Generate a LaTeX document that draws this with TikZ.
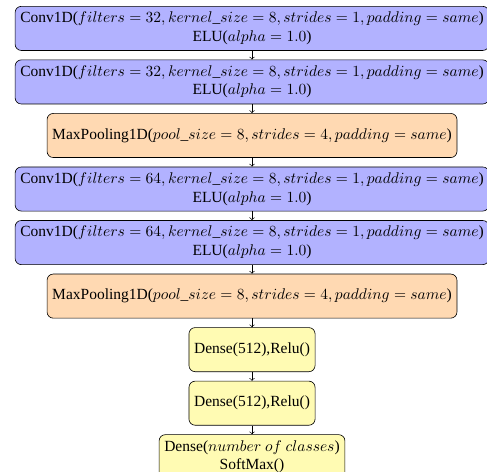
\documentclass[tikz,border=0pt]{standalone}
\usepackage[no-math]{fontspec}
\setmainfont{Liberation Serif}
\usetikzlibrary{positioning}

\begin{document}
\begin{tikzpicture}[
	node distance=0.2cm,
	layer/.style={draw, rounded corners, align=center, minimum height=1cm},
	conv/.style={layer, fill=blue!30},
	pool/.style={layer, fill=orange!30},
	dense/.style={layer, fill=yellow!30}
	]
	\useasboundingbox (-162.6pt,3.9pt) rectangle (151.6pt,-300.6pt);
	\node [conv, anchor=north] (conva) at (0,0) {Conv1D($filters=32, kernel\_size=8, strides=1, padding=same$) \\ ELU($alpha=1.0$)};
	\node [conv, below=of conva] (convb) {Conv1D($filters=32, kernel\_size=8, strides=1, padding=same$) \\ ELU($alpha=1.0$)};
	\node [pool, below=of convb] (poola) {MaxPooling1D($pool\_size=8, strides=4, padding=same$)};
	\node [conv, below=of poola] (convc) {Conv1D($filters=64, kernel\_size=8, strides=1, padding=same$) \\ ELU($alpha=1.0$)};
	\node [conv, below=of convc] (convd) {Conv1D($filters=64, kernel\_size=8, strides=1, padding=same$) \\ ELU($alpha=1.0$)};
	\node [pool, below=of convd] (poolb) {MaxPooling1D($pool\_size=8, strides=4, padding=same$)};
	\node [dense, below=of poolb] (densea) {Dense(512),Relu()};
	\node [dense, below=of densea] (denseb) {Dense(512),Relu()};
	\node [dense, below=of denseb] (densec) {Dense($number\ of\ classes$) \\ SoftMax()};

	\foreach \a/\b in {conva/convb, convb/poola, poola/convc, convc/convd, convd/poolb, poolb/densea, densea/denseb, denseb/densec}
		\draw [->] (\a) -- (\b);
\end{tikzpicture}
\end{document}
